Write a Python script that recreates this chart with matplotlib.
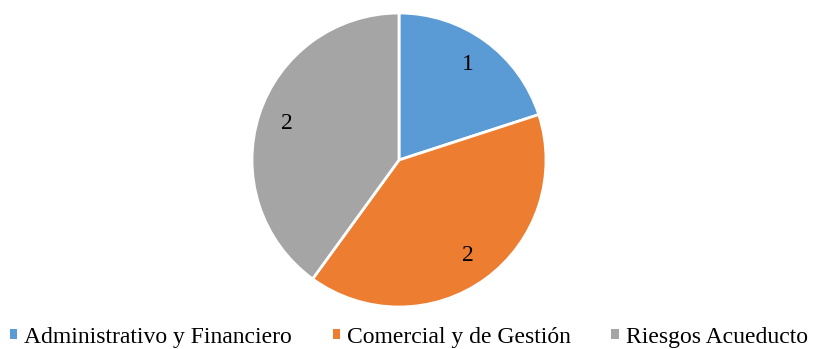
import matplotlib.pyplot as plt
from matplotlib.patches import Patch

plt.rcParams['font.family'] = ['Liberation Serif', 'DejaVu Serif']

# areas and number of items in each
labels = ['Administrativo y Financiero', 'Comercial y de Gestión',
          'Riesgos Acueducto']
counts = [1, 2, 2]
colors = ['#5B9BD5', '#ED7D31', '#A5A5A5']

W, H = 813, 349
fig = plt.figure(figsize=(W / 100, H / 100), dpi=100)

# pie centred at (399, 160) px, radius 147 px
cx, cy, r = 399, 160, 147
ax = fig.add_axes([(cx - r) / W, (H - cy - r) / H, 2 * r / W, 2 * r / H])
wedges, texts = ax.pie(counts, colors=colors, startangle=90,
                       counterclock=False, labels=[str(c) for c in counts],
                       labeldistance=0.8,
                       wedgeprops=dict(edgecolor='white', linewidth=2))
for t in texts:
    t.set_fontsize(17)
    t.set_ha('center')
    t.set_va('center')
ax.set_xlim(-1, 1)
ax.set_ylim(-1, 1)
ax.set_aspect('equal')
ax.axis('off')

handles = [Patch(facecolor=c) for c in colors]
fig.legend(handles, labels, ncol=3, loc='center',
           bbox_to_anchor=(0.503, (H - 337) / H), frameon=False,
           fontsize=17, handlelength=0.3, handleheight=0.3,
           handletextpad=0.3, columnspacing=1.72, borderaxespad=0,
           borderpad=0)

fig.savefig('out.png', dpi=100)
